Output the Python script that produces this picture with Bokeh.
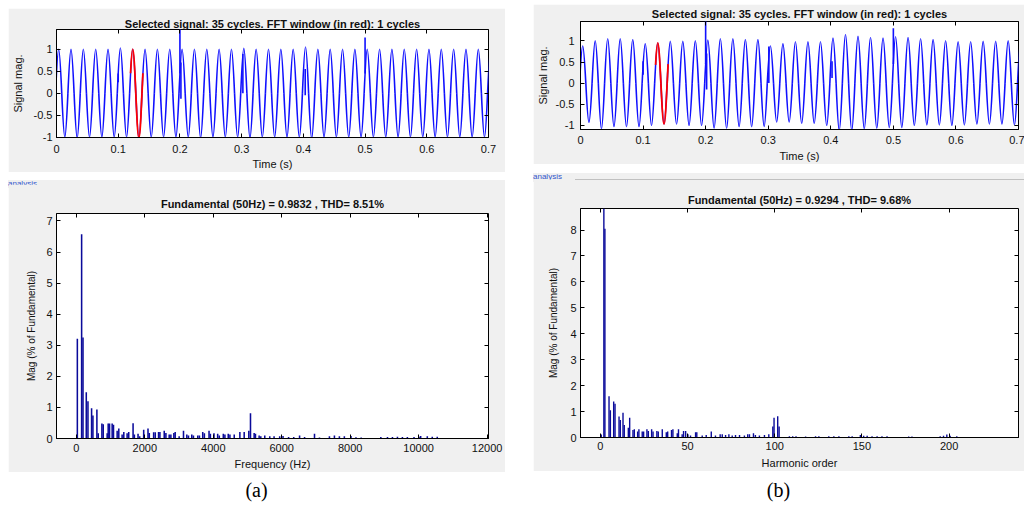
import math
from bokeh.plotting import figure
from bokeh.layouts import column, row
from bokeh.models import Div, Spacer, Range1d, CustomJSTickFormatter, LinearAxis
from bokeh.embed import file_html
from bokeh.resources import INLINE

# ---------------- data ----------------
F0 = 50.0            # fundamental frequency (Hz)
FIRST_PEAK = 0.0035  # time of first positive peak (s)
WINDOW = (0.12, 0.14)  # FFT window shown in red (s)

peaks_a = [1.00, 1.00, 1.00, 1.00, 1.00, 1.03, 1.00, 1.00, 1.00, 1.00, 1.00, 1.00,
           1.00, 1.00, 1.00, 1.02, 1.00, 1.00, 1.00, 1.00, 1.05, 1.00, 1.00, 1.00,
           1.00, 1.00, 1.00, 1.00, 1.00, 1.00, 1.00, 1.00, 1.00, 1.00, 1.00, 1.00]
troughs_a = [-1.00, -1.02, -1.00, -1.00, -1.00, -1.00, -1.02, -1.00, -1.00, -1.00, -1.00, -1.02,
             -1.00, -1.00, -1.00, -1.02, -1.00, -1.00, -1.00, -1.00, -1.03, -1.00, -1.00, -1.00,
             -1.00, -1.00, -1.00, -1.00, -1.00, -1.00, -1.00, -1.00, -1.00, -1.00, -1.00]
trans_a_t = [0.100, 0.200, 0.2016, 0.302, 0.403, 0.500]
trans_a_from = [0.45, 0.45, 0.70, 0.89, 0.55, 0.45]
trans_a_to = [0.25, 1.50, -0.13, 0.00, -0.05, 1.27]

peaks_b = [0.88, 1.00, 1.05, 1.05, 1.03, 0.93, 0.95, 0.99, 0.99, 1.00, 1.02, 1.05,
           1.05, 1.03, 1.03, 0.88, 0.93, 0.98, 0.98, 0.98, 1.07, 1.15, 1.11, 1.08,
           1.07, 1.10, 1.08, 1.05, 1.03, 1.00, 0.98, 0.98, 0.99, 0.99, 1.00, 1.00]
troughs_b = [-0.93, -1.08, -1.03, -1.03, -1.03, -1.00, -0.97, -0.97, -1.00, -1.00, -1.07, -1.07,
             -1.03, -1.03, -1.03, -0.92, -0.92, -0.95, -0.95, -1.00, -1.12, -1.12, -1.08, -1.07,
             -1.05, -1.05, -1.00, -0.99, -0.99, -1.00, -0.99, -0.97, -0.97, -0.97, -0.99]
trans_b_t = [0.100, 0.200, 0.2016, 0.301, 0.402, 0.500]
trans_b_from = [0.52, 0.45, 0.70, 0.87, 0.52, 0.45]
trans_b_to = [0.20, 1.50, -0.15, 0.00, 0.12, 1.30]

freq_a = [29, 154, 194, 290, 339, 445, 484, 600, 639, 746, 785, 900, 930, 969, 1046, 1085,
          1192, 1240, 1337, 1386, 1483, 1530, 1657, 1695, 1802, 1850, 1967, 2093, 2131, 2258,
          2305, 2402, 2441, 2567, 2616, 2712, 2761, 2848, 2887, 3003, 3130, 3227, 3275, 3372,
          3420, 3547, 3595, 3692, 3740, 3876, 3915, 4020, 4128, 4176, 4293, 4340, 4437, 4486,
          4612, 4777, 4903, 5038, 5087, 5194, 5232, 5340, 5388, 5504, 5650, 5776, 5940, 6037,
          6200, 6350, 6521, 6667, 6957, 7102, 7393, 7539, 7684, 7829, 8023, 8168, 8320, 8895,
          9089, 9234, 9380, 9525, 9670, 9864, 10010, 10058, 10252, 10397, 10543]
mag_a = [3.21, 6.57, 3.25, 1.49, 1.20, 0.97, 0.74, 0.93, 0.17, 0.48, 0.46, 0.17, 0.48, 0.48,
         0.48, 0.44, 0.25, 0.32, 0.13, 0.21, 0.17, 0.21, 0.49, 0.13, 0.15, 0.07, 0.28, 0.32,
         0.18, 0.20, 0.20, 0.21, 0.21, 0.25, 0.18, 0.13, 0.13, 0.18, 0.21, 0.07, 0.25, 0.13,
         0.10, 0.13, 0.10, 0.10, 0.10, 0.21, 0.17, 0.25, 0.15, 0.17, 0.15, 0.10, 0.15, 0.13,
         0.15, 0.13, 0.13, 0.21, 0.21, 0.25, 0.81, 0.18, 0.15, 0.10, 0.07, 0.10, 0.07, 0.07,
         0.07, 0.08, 0.05, 0.05, 0.10, 0.05, 0.15, 0.03, 0.07, 0.10, 0.07, 0.07, 0.08, 0.04,
         0.03, 0.05, 0.05, 0.05, 0.06, 0.05, 0.05, 0.05, 0.06, 0.08, 0.07, 0.06, 0.06]

harm_b = [0.5, 2.0, 2.6, 4.96, 5.73, 7.63, 8.4, 10.7, 11.45, 12.98, 13.7, 16.03, 16.8, 18.7,
          19.47, 21.37, 22.1, 24.0, 24.8, 26.7, 27.5, 29.4, 30.2, 32.4, 33.2, 35.5, 37.8, 38.6,
          40.8, 41.6, 44.1, 44.8, 46.9, 47.7, 48.9, 50.2, 51.7, 54.6, 55.3, 58.4, 60.7, 63.6,
          66.0, 68.7, 69.9, 71.8, 73.7, 75.6, 77.5, 79.8, 82.6, 84.5, 85.5, 87.8, 88.9, 91.2,
          94.1, 96.6, 98.9, 99.6, 101.7, 102.5, 108.4, 110.3, 112.2, 117.7, 123.4, 125.3, 131.0,
          133.9, 136.8, 142.5, 144.4, 149.1, 151.0, 153.0, 155.8, 158.7, 161.5, 164.4, 176.8,
          178.7, 194.9, 196.8, 198.7, 200.6, 204.4]
mag_b = [0.12, 9.5, 8.05, 1.59, 1.05, 1.39, 1.30, 0.81, 0.67, 0.95, 0.48, 0.38, 0.76, 0.29,
         0.32, 0.23, 0.32, 0.23, 0.23, 0.32, 0.25, 0.32, 0.23, 0.25, 0.23, 0.32, 0.20, 0.23,
         0.29, 0.32, 0.16, 0.32, 0.13, 0.25, 0.25, 0.13, 0.08, 0.20, 0.20, 0.08, 0.10, 0.23,
         0.08, 0.13, 0.13, 0.10, 0.13, 0.08, 0.10, 0.10, 0.08, 0.13, 0.13, 0.16, 0.10, 0.08,
         0.10, 0.13, 0.42, 0.76, 0.82, 0.42, 0.05, 0.05, 0.05, 0.04, 0.05, 0.05, 0.05, 0.05,
         0.05, 0.05, 0.05, 0.10, 0.07, 0.07, 0.05, 0.05, 0.05, 0.05, 0.04, 0.04, 0.05, 0.07,
         0.12, 0.07, 0.05]

time_ticks = [0, 0.1, 0.2, 0.3, 0.4, 0.5, 0.6, 0.7]
sig_ticks = [-1, -0.5, 0, 0.5, 1]
freq_ticks = [0, 2000, 4000, 6000, 8000, 10000, 12000]
mag_a_ticks = [0, 1, 2, 3, 4, 5, 6, 7]
harm_ticks = [0, 50, 100, 150, 200]
mag_b_ticks = [0, 1, 2, 3, 4, 5, 6, 7, 8]

title_sig = "Selected signal: 35 cycles. FFT window (in red): 1 cycles"
title_a = "Fundamental (50Hz) = 0.9832 , THD= 8.51%"
title_b = "Fundamental (50Hz) = 0.9294 , THD= 9.68%"

# ---------------- helpers ----------------
GRAY = "#f0f0f0"
FONT = "Liberation Sans"
BAR = "#0a0a9a"
WAVE = "#1010ff"
C1, C2, HP = 0.5122866, 1.0023137, math.pi / 2
T = 1.0 / F0
Q = T / 4
S = Q / HP


def quarter_rise(t0, a):
    return [(t0, 0.0), (t0 + C1 * S, C1 * a), (t0 + C2 * S, a), (t0 + Q, a)]


def quarter_fall(tp, a):
    return [(tp, a), (tp + (HP - C2) * S, a), (tp + (HP - C1) * S, C1 * a), (tp + Q, 0.0)]


def wave_segments(peaks, troughs):
    ext = []
    for k, a in enumerate(peaks):
        ext.append((FIRST_PEAK + k * T, a))
        if k < len(troughs):
            ext.append((FIRST_PEAK + k * T + T / 2, troughs[k]))
    segs = []
    for te, a in ext:
        segs.append(quarter_rise(te - Q, a))
        segs.append(quarter_fall(te, a))
    return segs


def lerp(p, q, u):
    return (p[0] + (q[0] - p[0]) * u, p[1] + (q[1] - p[1]) * u)


def split(P, u):
    p01 = lerp(P[0], P[1], u); p12 = lerp(P[1], P[2], u); p23 = lerp(P[2], P[3], u)
    p012 = lerp(p01, p12, u); p123 = lerp(p12, p23, u); m = lerp(p012, p123, u)
    return [P[0], p01, p012, m], [m, p123, p23, P[3]]


def u_at_x(P, x):
    lo, hi = 0.0, 1.0
    for _ in range(50):
        mid = (lo + hi) / 2
        if split(P, mid)[0][3][0] < x:
            lo = mid
        else:
            hi = mid
    return (lo + hi) / 2


def in_window(segs, w0, w1):
    out = []
    for P in segs:
        ta, tb = P[0][0], P[3][0]
        if tb <= w0 or ta >= w1:
            continue
        if ta < w0:
            P = split(P, u_at_x(P, w0))[1]
        if P[3][0] > w1:
            P = split(P, u_at_x(P, w1))[0]
        out.append(P)
    return out


def draw_bez(p, segs, color, width):
    p.bezier(x0=[s[0][0] for s in segs], y0=[s[0][1] for s in segs],
             cx0=[s[1][0] for s in segs], cy0=[s[1][1] for s in segs],
             cx1=[s[2][0] for s in segs], cy1=[s[2][1] for s in segs],
             x1=[s[3][0] for s in segs], y1=[s[3][1] for s in segs],
             line_color=color, line_width=width)


def frame_axis(ticks):
    ax = LinearAxis(ticker=ticks, major_label_text_font_size="1px", major_label_standoff=0,
                    major_label_text_color=None, axis_line_color=None,
                    major_tick_line_color="black", major_tick_in=4,
                    major_tick_out=0, minor_tick_line_color=None)
    return ax


def make_fig(w, h, xr, yr, lb, rb, tb, bb, title, title_standoff, xlabel, ylabel, xticks, yticks,
             xl_standoff, xa_standoff, yl_standoff, ya_standoff):
    p = figure(width=w, height=h, x_range=Range1d(*xr), y_range=Range1d(*yr),
               output_backend="svg", toolbar_location=None, title=title,
               min_border_left=lb, min_border_right=rb, min_border_top=tb,
               min_border_bottom=bb, margin=0)
    p.border_fill_color = GRAY
    p.background_fill_color = "white"
    p.outline_line_color = "black"
    p.outline_line_width = 1
    p.grid.visible = False
    p.title.align = "center"
    p.title.text_font = FONT
    p.title.text_font_size = "11px"
    p.title.text_font_style = "bold"
    p.title.text_color = "#111111"
    p.title.standoff = title_standoff
    fmt = CustomJSTickFormatter(code="return tick.toString();")
    for ax, ticks, lab, ls, als in ((p.xaxis[0], xticks, xlabel, xl_standoff, xa_standoff),
                                   (p.yaxis[0], yticks, ylabel, yl_standoff, ya_standoff)):
        ax.ticker = ticks
        ax.formatter = fmt
        ax.axis_label = lab
        ax.axis_line_color = "black"
        ax.major_tick_line_color = "black"
        ax.major_tick_in = 4
        ax.major_tick_out = 0
        ax.minor_tick_line_color = None
        ax.major_label_text_font = FONT
        ax.major_label_text_font_size = "11px"
        ax.major_label_text_color = "#111111"
        ax.major_label_standoff = ls
        ax.axis_label_text_font = FONT
        ax.axis_label_text_font_size = "11px"
        ax.axis_label_text_font_style = "normal"
        ax.axis_label_text_color = "#111111"
        ax.axis_label_standoff = als
    p.add_layout(frame_axis(xticks), "above")
    p.add_layout(frame_axis(yticks), "right")
    return p


def analysis_div(w, h, line_left, line_top):
    html = (f'<div style="position:relative;width:{w}px;height:{h}px;background:{GRAY};overflow:visible">'
            f'<span style="position:absolute;left:0px;top:0px;font-family:{FONT};'
            f'font-size:8px;line-height:8px;color:#3355cc">analysis</span>'
            f'<div style="position:absolute;left:{line_left}px;right:0px;top:{line_top}px;height:0px;'
            f'border-top:1px solid #b0b0b0"></div></div>')
    return Div(text=html, width=w, height=h, margin=0)


def caption_div(w, h, text, pad):
    html = (f'<div style="width:{w}px;text-align:center;font-family:Liberation Serif;'
            f'font-size:20px;line-height:20px;padding-top:{pad}px;color:#000">{text}</div>')
    return Div(text=html, width=w, height=h, margin=0)


# ---------------- panel (a) ----------------
WA = 497
a1 = make_fig(WA, 164, (0, 0.7), (-1.01, 1.45), 44, 16, 21, 35, title_sig, 0, "Time (s)",
              "Signal mag.", time_ticks, sig_ticks, 7, 2, 4, 7)
segs_a = wave_segments(peaks_a, troughs_a)
draw_bez(a1, segs_a, WAVE, 1.6)
a1.segment(x0=trans_a_t, y0=trans_a_from, x1=trans_a_t, y1=trans_a_to, line_color=WAVE, line_width=1.6)
draw_bez(a1, in_window(segs_a, *WINDOW), "#ff0000", 1.8)

a2 = make_fig(WA, 288, (-580, 12040), (0, 7.24), 46, 17, 29, 29, title_a, 8, "Frequency (Hz)",
              "Mag (% of Fundamental)", freq_ticks, mag_a_ticks, 5, 3, 4, 6)
a2.yaxis[0].axis_label_text_font_size = "10px"
a2.vbar(x=freq_a, top=mag_a, bottom=0, width=45, fill_color=BAR, line_color=None)

col_a = column(Spacer(width=WA, height=8, margin=0), a1, Spacer(width=WA, height=4, margin=0),
               analysis_div(WA, 8, 42, 6), a2, caption_div(WA, 27, "(a)", 8), spacing=0)

# ---------------- panel (b) ----------------
WB = 491
b1 = make_fig(WB, 160, (0, 0.7), (-1.1, 1.46), 43, 4, 17, 32, title_sig, 3, "Time (s)",
              "Signal mag.", time_ticks, sig_ticks, 6, 3, 6, 4)
segs_b = wave_segments(peaks_b, troughs_b)
draw_bez(b1, segs_b, WAVE, 1.6)
b1.segment(x0=trans_b_t, y0=trans_b_from, x1=trans_b_t, y1=trans_b_to, line_color=WAVE, line_width=1.6)
draw_bez(b1, in_window(segs_b, *WINDOW), "#ff0000", 1.8)

b2 = make_fig(WB, 292, (-11.4, 239.8), (0, 8.83), 46, 6, 29, 30, title_b, 6, "Harmonic order",
              "Mag (% of Fundamental)", harm_ticks, mag_b_ticks, 4, 4, 4, 8)
b2.yaxis[0].axis_label_text_font_size = "10px"
b2.vbar(x=harm_b, top=mag_b, bottom=0, width=0.8, fill_color=BAR, line_color=None)

col_b = column(Spacer(width=WB, height=4, margin=0), b1, Spacer(width=WB, height=6, margin=0),
               analysis_div(WB, 9, 42, 6), b2, caption_div(WB, 28, "(b)", 9), spacing=0)

layout = row(Spacer(width=8, height=499, margin=0), col_a, Spacer(width=28, height=499, margin=0),
             col_b, spacing=0)

open("out.html", "w").write(file_html(layout, INLINE))
